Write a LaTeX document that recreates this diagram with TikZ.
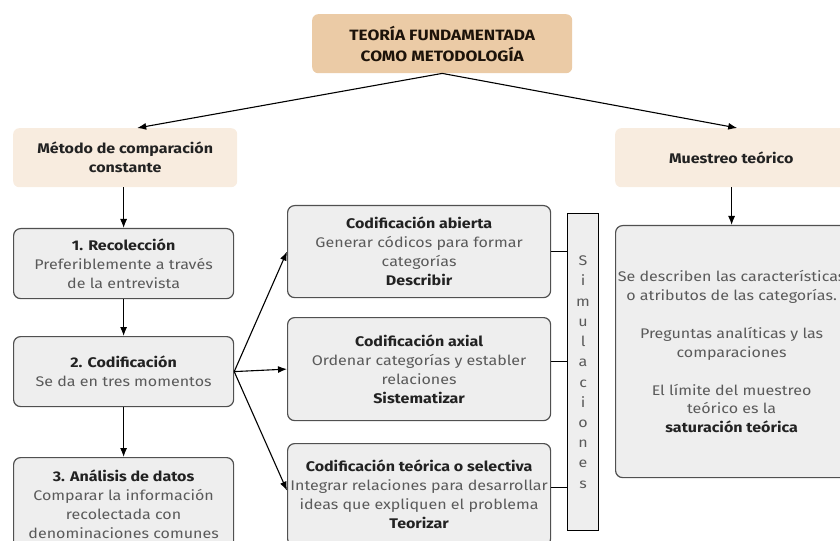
\documentclass[tikz,border=0pt]{standalone}
\usepackage{fontspec}
\setmainfont{Fira Sans}[FakeStretch=1.15]
\usetikzlibrary{arrows.meta}
\definecolor{tanD}{HTML}{EBCBA6}
\definecolor{tanL}{HTML}{F8ECDF}
\definecolor{grayF}{HTML}{EEEEEE}
\definecolor{grayB}{HTML}{505050}
\definecolor{txt}{HTML}{5A5A5A}
\definecolor{ttl}{HTML}{222222}
\begin{document}
\begin{tikzpicture}[x=1bp,y=-1bp,
  tanbox/.style={fill=tanL, rounded corners=6bp, align=center, inner sep=0pt,
    font=\bfseries\fontsize{14}{19}\selectfont, text=ttl, anchor=north west},
  graybox/.style={fill=grayF, draw=grayB, line width=1.2bp, rounded corners=7bp,
    align=center, inner sep=0pt, font=\fontsize{14}{19}\selectfont, text=txt, anchor=north west},
  simbox/.style={fill=grayF, draw=black, line width=1.2bp, align=center, inner sep=0pt,
    font=\fontsize{14}{20.3}\selectfont, text=txt, anchor=north west},
  arr/.style={-{Latex[length=9bp,width=7bp]}, line width=1.1bp, black},
  ln/.style={line width=1.1bp, black}]
\useasboundingbox (0,0) rectangle (840,541);
\clip (0,0) rectangle (840,541);
\newcommand{\ttlx}[1]{{\bfseries\color{ttl}#1}}
% top
\node[tanbox, fill=tanD, minimum width=260bp, minimum height=59bp,
  font=\bfseries\fontsize{15}{21}\selectfont, text=black!85!brown] (top) at (312,14)
  {TEORÍA FUNDAMENTADA\\COMO METODOLOGÍA};
% left column
\node[tanbox, minimum width=224bp, minimum height=59bp] (mcc) at (13,128)
  {Método de comparación\\constante};
\node[graybox, minimum width=220bp, minimum height=70bp] (b1) at (13,228)
  {\ttlx{1. Recolección}\\Preferiblemente a través\\de la entrevista};
\node[graybox, minimum width=220bp, minimum height=70bp] (b2) at (13,336)
  {\ttlx{2. Codificación}\\Se da en tres momentos};
\node[graybox, minimum width=220bp, minimum height=93bp] (b3) at (13,457)
  {\ttlx{3. Análisis de datos}\\Comparar la información\\recolectada con\\denominaciones comunes};
% middle column
\node[graybox, minimum width=263bp, minimum height=92bp] (ca) at (287,205)
  {\ttlx{Codificación abierta}\\Generar códicos para formar\\categorías\\\ttlx{Describir}};
\node[graybox, minimum width=263bp, minimum height=103bp] (cx) at (287,317)
  {\ttlx{Codificación axial}\\Ordenar categorías y establer\\relaciones\\\ttlx{Sistematizar}};
\node[graybox, minimum width=263bp, minimum height=102bp] (cs) at (287,443)
  {\ttlx{Codificación teórica o selectiva}\\Integrar relaciones para desarrollar\\ideas que expliquen el problema\\\ttlx{Teorizar}};
\node[simbox, minimum width=31bp, minimum height=317bp] (sim) at (567,213)
  {S\\i\\m\\u\\l\\a\\c\\i\\o\\n\\e\\s};
% right column
\node[tanbox, minimum width=232bp, minimum height=59bp] (mt) at (615,128)
  {Muestreo teórico};
\node[graybox, minimum width=232bp, minimum height=252bp] (rb) at (615,225)
  {Se describen las características\\o atributos de las categorías.\\[19bp]
   Preguntas analíticas y las\\comparaciones\\[19bp]
   El límite del muestreo\\teórico es la\\\ttlx{saturación teórica}};
% connectors
\draw[arr] (top.south) -- ([xshift=12bp]mcc.north);
\draw[arr] (top.south) -- ([xshift=6bp]mt.north);
\draw[arr] (mcc.south -| b1.north) -- (b1.north);
\draw[arr] (b1.south) -- (b2.north);
\draw[arr] (b2.south) -- (b3.north);
\draw[arr] (mt.south -| rb.north) -- (rb.north);
\draw[arr] (b2.east) -- (ca.west);
\draw[arr] (b2.east) -- (cx.west);
\draw[arr] (b2.east) -- ([yshift=4bp]cs.west);
\draw[ln] (ca.east) -- (ca.east -| sim.west);
\draw[ln] ([yshift=8bp]cx.east) -- ([yshift=8bp]cx.east -| sim.west);
\draw[ln] ([yshift=7bp]cs.east) -- ([yshift=7bp]cs.east -| sim.west);
\end{tikzpicture}
\end{document}
